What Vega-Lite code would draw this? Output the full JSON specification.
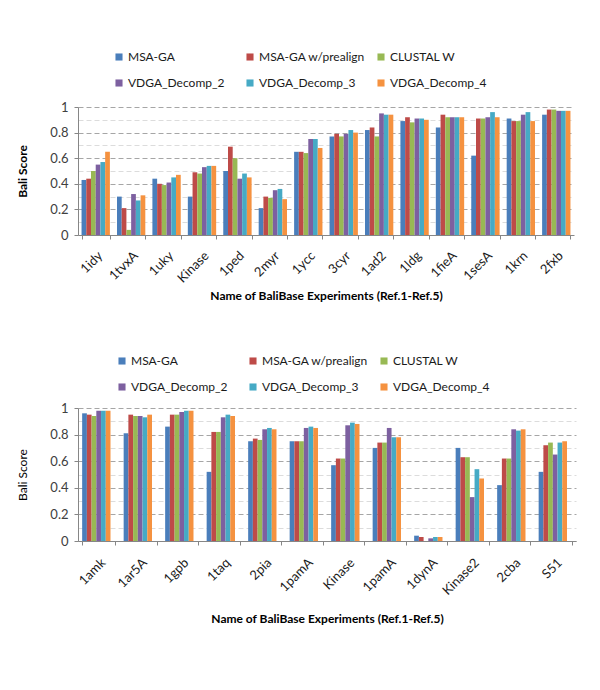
{
  "$schema": "https://vega.github.io/schema/vega-lite/v6.json",
  "padding": {"left": 16, "top": 51, "right": 5, "bottom": 5},
  "background": "white",
  "config": {
    "font": "Lato",
    "view": {"stroke": null},
    "axis": {"labelFont": "Lato", "titleFont": "Lato"},
    "legend": {"labelFont": "Lato"}
  },
  "datasets": {
    "top": [
      {"experiment": "1idy", "method": "MSA-GA", "score": 0.43},
      {"experiment": "1idy", "method": "MSA-GA w/prealign", "score": 0.44},
      {"experiment": "1idy", "method": "CLUSTAL W", "score": 0.50},
      {"experiment": "1idy", "method": "VDGA_Decomp_2", "score": 0.55},
      {"experiment": "1idy", "method": "VDGA_Decomp_3", "score": 0.57},
      {"experiment": "1idy", "method": "VDGA_Decomp_4", "score": 0.65},
      {"experiment": "1tvxA", "method": "MSA-GA", "score": 0.30},
      {"experiment": "1tvxA", "method": "MSA-GA w/prealign", "score": 0.21},
      {"experiment": "1tvxA", "method": "CLUSTAL W", "score": 0.04},
      {"experiment": "1tvxA", "method": "VDGA_Decomp_2", "score": 0.32},
      {"experiment": "1tvxA", "method": "VDGA_Decomp_3", "score": 0.27},
      {"experiment": "1tvxA", "method": "VDGA_Decomp_4", "score": 0.31},
      {"experiment": "1uky", "method": "MSA-GA", "score": 0.44},
      {"experiment": "1uky", "method": "MSA-GA w/prealign", "score": 0.40},
      {"experiment": "1uky", "method": "CLUSTAL W", "score": 0.39},
      {"experiment": "1uky", "method": "VDGA_Decomp_2", "score": 0.41},
      {"experiment": "1uky", "method": "VDGA_Decomp_3", "score": 0.45},
      {"experiment": "1uky", "method": "VDGA_Decomp_4", "score": 0.47},
      {"experiment": "Kinase", "method": "MSA-GA", "score": 0.30},
      {"experiment": "Kinase", "method": "MSA-GA w/prealign", "score": 0.49},
      {"experiment": "Kinase", "method": "CLUSTAL W", "score": 0.48},
      {"experiment": "Kinase", "method": "VDGA_Decomp_2", "score": 0.53},
      {"experiment": "Kinase", "method": "VDGA_Decomp_3", "score": 0.54},
      {"experiment": "Kinase", "method": "VDGA_Decomp_4", "score": 0.54},
      {"experiment": "1ped", "method": "MSA-GA", "score": 0.50},
      {"experiment": "1ped", "method": "MSA-GA w/prealign", "score": 0.69},
      {"experiment": "1ped", "method": "CLUSTAL W", "score": 0.60},
      {"experiment": "1ped", "method": "VDGA_Decomp_2", "score": 0.44},
      {"experiment": "1ped", "method": "VDGA_Decomp_3", "score": 0.48},
      {"experiment": "1ped", "method": "VDGA_Decomp_4", "score": 0.45},
      {"experiment": "2myr", "method": "MSA-GA", "score": 0.21},
      {"experiment": "2myr", "method": "MSA-GA w/prealign", "score": 0.30},
      {"experiment": "2myr", "method": "CLUSTAL W", "score": 0.29},
      {"experiment": "2myr", "method": "VDGA_Decomp_2", "score": 0.35},
      {"experiment": "2myr", "method": "VDGA_Decomp_3", "score": 0.36},
      {"experiment": "2myr", "method": "VDGA_Decomp_4", "score": 0.28},
      {"experiment": "1ycc", "method": "MSA-GA", "score": 0.65},
      {"experiment": "1ycc", "method": "MSA-GA w/prealign", "score": 0.65},
      {"experiment": "1ycc", "method": "CLUSTAL W", "score": 0.64},
      {"experiment": "1ycc", "method": "VDGA_Decomp_2", "score": 0.75},
      {"experiment": "1ycc", "method": "VDGA_Decomp_3", "score": 0.75},
      {"experiment": "1ycc", "method": "VDGA_Decomp_4", "score": 0.68},
      {"experiment": "3cyr", "method": "MSA-GA", "score": 0.77},
      {"experiment": "3cyr", "method": "MSA-GA w/prealign", "score": 0.79},
      {"experiment": "3cyr", "method": "CLUSTAL W", "score": 0.77},
      {"experiment": "3cyr", "method": "VDGA_Decomp_2", "score": 0.79},
      {"experiment": "3cyr", "method": "VDGA_Decomp_3", "score": 0.82},
      {"experiment": "3cyr", "method": "VDGA_Decomp_4", "score": 0.80},
      {"experiment": "1ad2", "method": "MSA-GA", "score": 0.82},
      {"experiment": "1ad2", "method": "MSA-GA w/prealign", "score": 0.84},
      {"experiment": "1ad2", "method": "CLUSTAL W", "score": 0.77},
      {"experiment": "1ad2", "method": "VDGA_Decomp_2", "score": 0.95},
      {"experiment": "1ad2", "method": "VDGA_Decomp_3", "score": 0.94},
      {"experiment": "1ad2", "method": "VDGA_Decomp_4", "score": 0.94},
      {"experiment": "1ldg", "method": "MSA-GA", "score": 0.89},
      {"experiment": "1ldg", "method": "MSA-GA w/prealign", "score": 0.92},
      {"experiment": "1ldg", "method": "CLUSTAL W", "score": 0.88},
      {"experiment": "1ldg", "method": "VDGA_Decomp_2", "score": 0.91},
      {"experiment": "1ldg", "method": "VDGA_Decomp_3", "score": 0.91},
      {"experiment": "1ldg", "method": "VDGA_Decomp_4", "score": 0.90},
      {"experiment": "1fieA", "method": "MSA-GA", "score": 0.84},
      {"experiment": "1fieA", "method": "MSA-GA w/prealign", "score": 0.94},
      {"experiment": "1fieA", "method": "CLUSTAL W", "score": 0.92},
      {"experiment": "1fieA", "method": "VDGA_Decomp_2", "score": 0.92},
      {"experiment": "1fieA", "method": "VDGA_Decomp_3", "score": 0.92},
      {"experiment": "1fieA", "method": "VDGA_Decomp_4", "score": 0.92},
      {"experiment": "1sesA", "method": "MSA-GA", "score": 0.62},
      {"experiment": "1sesA", "method": "MSA-GA w/prealign", "score": 0.91},
      {"experiment": "1sesA", "method": "CLUSTAL W", "score": 0.91},
      {"experiment": "1sesA", "method": "VDGA_Decomp_2", "score": 0.92},
      {"experiment": "1sesA", "method": "VDGA_Decomp_3", "score": 0.96},
      {"experiment": "1sesA", "method": "VDGA_Decomp_4", "score": 0.92},
      {"experiment": "1krn", "method": "MSA-GA", "score": 0.91},
      {"experiment": "1krn", "method": "MSA-GA w/prealign", "score": 0.89},
      {"experiment": "1krn", "method": "CLUSTAL W", "score": 0.89},
      {"experiment": "1krn", "method": "VDGA_Decomp_2", "score": 0.94},
      {"experiment": "1krn", "method": "VDGA_Decomp_3", "score": 0.96},
      {"experiment": "1krn", "method": "VDGA_Decomp_4", "score": 0.89},
      {"experiment": "2fxb", "method": "MSA-GA", "score": 0.94},
      {"experiment": "2fxb", "method": "MSA-GA w/prealign", "score": 0.98},
      {"experiment": "2fxb", "method": "CLUSTAL W", "score": 0.98},
      {"experiment": "2fxb", "method": "VDGA_Decomp_2", "score": 0.97},
      {"experiment": "2fxb", "method": "VDGA_Decomp_3", "score": 0.97},
      {"experiment": "2fxb", "method": "VDGA_Decomp_4", "score": 0.97}
    ],
    "bottom": [
      {"experiment": "1amk", "method": "MSA-GA", "score": 0.96},
      {"experiment": "1amk", "method": "MSA-GA w/prealign", "score": 0.95},
      {"experiment": "1amk", "method": "CLUSTAL W", "score": 0.94},
      {"experiment": "1amk", "method": "VDGA_Decomp_2", "score": 0.98},
      {"experiment": "1amk", "method": "VDGA_Decomp_3", "score": 0.98},
      {"experiment": "1amk", "method": "VDGA_Decomp_4", "score": 0.98},
      {"experiment": "1ar5A", "method": "MSA-GA", "score": 0.81},
      {"experiment": "1ar5A", "method": "MSA-GA w/prealign", "score": 0.95},
      {"experiment": "1ar5A", "method": "CLUSTAL W", "score": 0.94},
      {"experiment": "1ar5A", "method": "VDGA_Decomp_2", "score": 0.94},
      {"experiment": "1ar5A", "method": "VDGA_Decomp_3", "score": 0.93},
      {"experiment": "1ar5A", "method": "VDGA_Decomp_4", "score": 0.95},
      {"experiment": "1gpb", "method": "MSA-GA", "score": 0.86},
      {"experiment": "1gpb", "method": "MSA-GA w/prealign", "score": 0.95},
      {"experiment": "1gpb", "method": "CLUSTAL W", "score": 0.95},
      {"experiment": "1gpb", "method": "VDGA_Decomp_2", "score": 0.97},
      {"experiment": "1gpb", "method": "VDGA_Decomp_3", "score": 0.98},
      {"experiment": "1gpb", "method": "VDGA_Decomp_4", "score": 0.98},
      {"experiment": "1taq", "method": "MSA-GA", "score": 0.52},
      {"experiment": "1taq", "method": "MSA-GA w/prealign", "score": 0.82},
      {"experiment": "1taq", "method": "CLUSTAL W", "score": 0.82},
      {"experiment": "1taq", "method": "VDGA_Decomp_2", "score": 0.93},
      {"experiment": "1taq", "method": "VDGA_Decomp_3", "score": 0.95},
      {"experiment": "1taq", "method": "VDGA_Decomp_4", "score": 0.94},
      {"experiment": "2pia", "method": "MSA-GA", "score": 0.75},
      {"experiment": "2pia", "method": "MSA-GA w/prealign", "score": 0.77},
      {"experiment": "2pia", "method": "CLUSTAL W", "score": 0.76},
      {"experiment": "2pia", "method": "VDGA_Decomp_2", "score": 0.84},
      {"experiment": "2pia", "method": "VDGA_Decomp_3", "score": 0.85},
      {"experiment": "2pia", "method": "VDGA_Decomp_4", "score": 0.84},
      {"experiment": "1pamA", "method": "MSA-GA", "score": 0.75},
      {"experiment": "1pamA", "method": "MSA-GA w/prealign", "score": 0.75},
      {"experiment": "1pamA", "method": "CLUSTAL W", "score": 0.75},
      {"experiment": "1pamA", "method": "VDGA_Decomp_2", "score": 0.85},
      {"experiment": "1pamA", "method": "VDGA_Decomp_3", "score": 0.86},
      {"experiment": "1pamA", "method": "VDGA_Decomp_4", "score": 0.85},
      {"experiment": "Kinase", "method": "MSA-GA", "score": 0.57},
      {"experiment": "Kinase", "method": "MSA-GA w/prealign", "score": 0.62},
      {"experiment": "Kinase", "method": "CLUSTAL W", "score": 0.62},
      {"experiment": "Kinase", "method": "VDGA_Decomp_2", "score": 0.87},
      {"experiment": "Kinase", "method": "VDGA_Decomp_3", "score": 0.89},
      {"experiment": "Kinase", "method": "VDGA_Decomp_4", "score": 0.88},
      {"experiment": "1pamA\u200b", "method": "MSA-GA", "score": 0.70},
      {"experiment": "1pamA\u200b", "method": "MSA-GA w/prealign", "score": 0.74},
      {"experiment": "1pamA\u200b", "method": "CLUSTAL W", "score": 0.74},
      {"experiment": "1pamA\u200b", "method": "VDGA_Decomp_2", "score": 0.85},
      {"experiment": "1pamA\u200b", "method": "VDGA_Decomp_3", "score": 0.78},
      {"experiment": "1pamA\u200b", "method": "VDGA_Decomp_4", "score": 0.78},
      {"experiment": "1dynA", "method": "MSA-GA", "score": 0.04},
      {"experiment": "1dynA", "method": "MSA-GA w/prealign", "score": 0.03},
      {"experiment": "1dynA", "method": "CLUSTAL W", "score": 0.0},
      {"experiment": "1dynA", "method": "VDGA_Decomp_2", "score": 0.02},
      {"experiment": "1dynA", "method": "VDGA_Decomp_3", "score": 0.03},
      {"experiment": "1dynA", "method": "VDGA_Decomp_4", "score": 0.03},
      {"experiment": "Kinase2", "method": "MSA-GA", "score": 0.70},
      {"experiment": "Kinase2", "method": "MSA-GA w/prealign", "score": 0.63},
      {"experiment": "Kinase2", "method": "CLUSTAL W", "score": 0.63},
      {"experiment": "Kinase2", "method": "VDGA_Decomp_2", "score": 0.33},
      {"experiment": "Kinase2", "method": "VDGA_Decomp_3", "score": 0.54},
      {"experiment": "Kinase2", "method": "VDGA_Decomp_4", "score": 0.47},
      {"experiment": "2cba", "method": "MSA-GA", "score": 0.42},
      {"experiment": "2cba", "method": "MSA-GA w/prealign", "score": 0.62},
      {"experiment": "2cba", "method": "CLUSTAL W", "score": 0.62},
      {"experiment": "2cba", "method": "VDGA_Decomp_2", "score": 0.84},
      {"experiment": "2cba", "method": "VDGA_Decomp_3", "score": 0.83},
      {"experiment": "2cba", "method": "VDGA_Decomp_4", "score": 0.84},
      {"experiment": "S51", "method": "MSA-GA", "score": 0.52},
      {"experiment": "S51", "method": "MSA-GA w/prealign", "score": 0.72},
      {"experiment": "S51", "method": "CLUSTAL W", "score": 0.74},
      {"experiment": "S51", "method": "VDGA_Decomp_2", "score": 0.65},
      {"experiment": "S51", "method": "VDGA_Decomp_3", "score": 0.74},
      {"experiment": "S51", "method": "VDGA_Decomp_4", "score": 0.75}
    ]
  },
  "spacing": 53,
  "resolve": {"scale": {"color": "independent"}, "legend": {"color": "independent"}},
  "vconcat": [
    {
      "data": {"name": "top"},
      "width": 496,
      "height": 128,
      "mark": {"type": "bar"},
      "encoding": {
        "x": {
          "field": "experiment", "type": "nominal", "sort": null,
          "scale": {"paddingInner": 0.2, "paddingOuter": 0.1},
          "axis": {
            "title": "Name of BaliBase Experiments (Ref.1-Ref.5)",
            "titleFontSize": 12, "titleFontWeight": "bold", "titleColor": "#000000", "titlePadding": 5,
            "labelAngle": -45, "labelFontSize": 13, "labelColor": "#1a1a1a", "labelPadding": 10,
            "tickBand": "extent", "tickSize": 4, "tickColor": "#868686",
            "domainColor": "#868686", "grid": false
          }
        },
        "xOffset": {"field": "method", "type": "nominal", "sort": ["MSA-GA", "MSA-GA w/prealign", "CLUSTAL W", "VDGA_Decomp_2", "VDGA_Decomp_3", "VDGA_Decomp_4"]},
        "y": {
          "field": "score", "type": "quantitative",
          "scale": {"domain": [0, 1], "nice": false},
          "axis": {
            "title": "Bali Score", "titleFontSize": 12, "titleFontWeight": "bold", "titleColor": "#000000", "titlePadding": 20,
            "values": [0, 0.1, 0.2, 0.3, 0.4, 0.5, 0.6, 0.7, 0.8, 0.9, 1],
            "labelExpr": "round(datum.value*10)%2==0 ? format(datum.value,'.1~f') : ''",
            "labelFontSize": 13, "labelColor": "#404040", "labelPadding": 6,
            "grid": true, "gridDash": [5, 3],
            "gridColor": {"condition": {"test": "round(datum.value*10)%2==1", "value": "#dcdcdc"}, "value": "#a6a6a6"},
            "tickSize": 4, "tickColor": "#868686",
            "tickOpacity": {"condition": {"test": "round(datum.value*10)%2==1", "value": 0}, "value": 1},
            "domainColor": "#868686"
          }
        },
        "color": {
          "field": "method", "type": "nominal",
          "scale": {
            "domain": ["MSA-GA", "MSA-GA w/prealign", "CLUSTAL W", "VDGA_Decomp_2", "VDGA_Decomp_3", "VDGA_Decomp_4"],
            "range": ["#4a7ebb", "#be4b48", "#98b954", "#7d60a0", "#46aac5", "#f59240"]
          },
          "legend": {
            "orient": "none", "direction": "horizontal", "legendX": 35, "legendY": -56, "columns": 3, "gridAlign": "all",
            "title": null, "symbolType": "square", "symbolSize": 50, "symbolStrokeWidth": 0,
            "labelFontSize": 12, "labelColor": "#1a1a1a", "labelOffset": 3,
            "columnPadding": 10, "rowPadding": 14, "padding": 0, "labelLimit": 200
          }
        }
      }
    },
    {
      "data": {"name": "bottom"},
      "width": 498,
      "height": 133,
      "mark": {"type": "bar"},
      "encoding": {
        "x": {
          "field": "experiment", "type": "nominal", "sort": null,
          "scale": {"paddingInner": 0.2, "paddingOuter": 0.1},
          "axis": {
            "title": "Name of BaliBase Experiments (Ref.1-Ref.5)",
            "titleFontSize": 12, "titleFontWeight": "bold", "titleColor": "#000000", "titlePadding": 16,
            "labelAngle": -45, "labelFontSize": 13, "labelColor": "#1a1a1a", "labelPadding": 11,
            "tickBand": "extent", "tickSize": 4, "tickColor": "#868686",
            "domainColor": "#868686", "grid": false
          }
        },
        "xOffset": {"field": "method", "type": "nominal", "sort": ["MSA-GA", "MSA-GA w/prealign", "CLUSTAL W", "VDGA_Decomp_2", "VDGA_Decomp_3", "VDGA_Decomp_4"]},
        "y": {
          "field": "score", "type": "quantitative",
          "scale": {"domain": [0, 1], "nice": false},
          "axis": {
            "title": "Bali Score", "titleFontSize": 12, "titleFontWeight": "normal", "titleColor": "#000000", "titlePadding": 20,
            "values": [0, 0.1, 0.2, 0.3, 0.4, 0.5, 0.6, 0.7, 0.8, 0.9, 1],
            "labelExpr": "round(datum.value*10)%2==0 ? format(datum.value,'.1~f') : ''",
            "labelFontSize": 13, "labelColor": "#404040", "labelPadding": 6,
            "grid": true, "gridDash": [5, 3],
            "gridColor": {"condition": {"test": "round(datum.value*10)%2==1", "value": "#dcdcdc"}, "value": "#a6a6a6"},
            "tickSize": 4, "tickColor": "#868686",
            "tickOpacity": {"condition": {"test": "round(datum.value*10)%2==1", "value": 0}, "value": 1},
            "domainColor": "#868686"
          }
        },
        "color": {
          "field": "method", "type": "nominal",
          "scale": {
            "domain": ["MSA-GA", "MSA-GA w/prealign", "CLUSTAL W", "VDGA_Decomp_2", "VDGA_Decomp_3", "VDGA_Decomp_4"],
            "range": ["#4a7ebb", "#be4b48", "#98b954", "#7d60a0", "#46aac5", "#f59240"]
          },
          "legend": {
            "orient": "none", "direction": "horizontal", "legendX": 38, "legendY": -53, "columns": 3, "gridAlign": "all",
            "title": null, "symbolType": "square", "symbolSize": 50, "symbolStrokeWidth": 0,
            "labelFontSize": 12, "labelColor": "#1a1a1a", "labelOffset": 3,
            "columnPadding": 10, "rowPadding": 14, "padding": 0, "labelLimit": 200
          }
        }
      }
    }
  ]
}
